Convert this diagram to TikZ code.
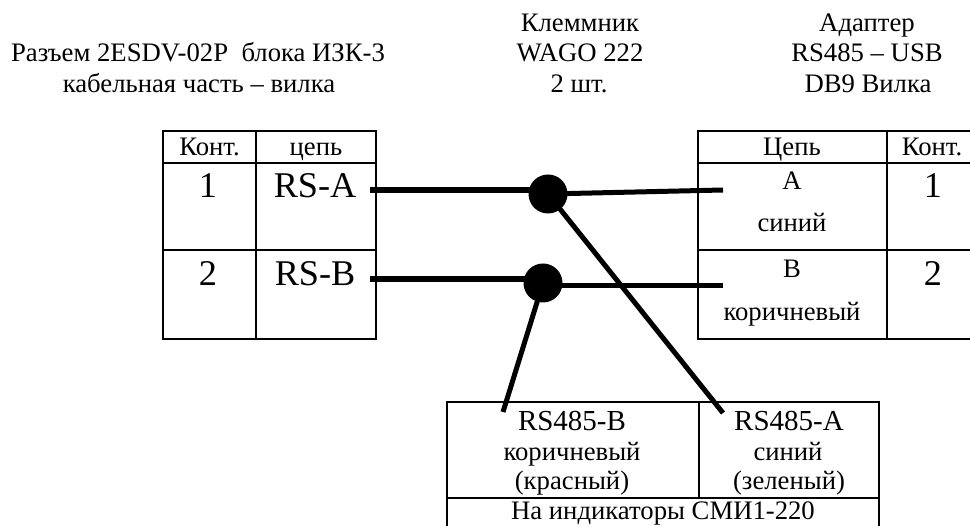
\documentclass[tikz,border=0pt]{standalone}
\usepackage{fontspec}
\setmainfont{Liberation Serif}
\tikzset{
  grid/.style={draw=black,line width=1.6pt},
  wire/.style={draw=black,line width=6pt},
  thinwire/.style={draw=black,line width=5pt},
  joint/.style={circle,fill=black,inner sep=0pt,minimum size=39pt},
  txt/.style={font=\fontsize{26.7}{26.7}\selectfont,inner sep=0pt,anchor=base},
  midtxt/.style={font=\fontsize{29}{29}\selectfont,inner sep=0pt,anchor=base},
  bigtxt/.style={font=\fontsize{36.2}{36.2}\selectfont,inner sep=0pt,anchor=base},
}
\begin{document}
\begin{tikzpicture}[x=1pt,y=-1pt]
\useasboundingbox (0,0) rectangle (970,526);
% left table
\draw[grid] (163,131) rectangle (376,339);
\draw[grid] (163,163) -- (376,163) (163,250) -- (376,250) (256,131) -- (256,339);
% right table
\draw[grid] (698,131) rectangle (975,339);
\draw[grid] (698,163) -- (975,163) (698,250) -- (975,250) (887,131) -- (887,339);
% bottom table
\draw[grid] (447,402) rectangle (879,532);
\draw[grid] (447,498) -- (879,498) (699,402) -- (699,498);
% headings
\node[txt] (h1) at (198,62) {Разъем 2ESDV-02P\ \ блока ИЗК-3};
\node[txt] (h2) at (199,93) {кабельная часть – вилка};
\node[txt] (h3) at (580,32) {Клеммник};
\node[txt] (h4) at (580,62) {WAGO 222};
\node[txt] (h5) at (579,93) {2 шт.};
\node[txt] (h6) at (867,32) {Адаптер};
\node[txt] (h7) at (867,62) {RS485 – USB};
\node[txt] (h8) at (868,93) {DB9 Вилка};
% left cells
\node[txt] (lk) at (209.5,156) {Конт.};
\node[txt] (lc) at (316,156) {цепь};
\node[bigtxt] (l1) at (208,198) {1};
\node[bigtxt] (la) at (315,198) {RS-A};
\node[bigtxt] (l2) at (208,286) {2};
\node[bigtxt] (lb) at (315,286) {RS-B};
% right cells
\node[txt] (rc) at (792,156) {Цепь};
\node[txt] (rk) at (932,156) {Конт.};
\node[txt] (ra) at (792,190) {А};
\node[txt] (rsin) at (792,232) {синий};
\node[txt] (rb) at (792,278) {В};
\node[txt] (rkor) at (792,321) {коричневый};
\node[bigtxt] (r1) at (933,198) {1};
\node[bigtxt] (r2) at (933,286) {2};
% bottom cells
\node[midtxt] (b1) at (572,431) {RS485-B};
\node[txt] (b2) at (572,461) {коричневый};
\node[txt] (b3) at (572,490) {(красный)};
\node[midtxt] (b4) at (789,431) {RS485-A};
\node[txt] (b5) at (788,461) {синий};
\node[txt] (b6) at (789,490) {(зеленый)};
\node[txt] (b7) at (663,520) {На индикаторы СМИ1-220};
% wires
\coordinate (aL) at (370,190);
\coordinate (bL) at (370,279);
\coordinate (aR) at (723,190);
\coordinate (bR) at (723,286);
\coordinate (bB) at (503,412);
\coordinate (aB) at (723,413);
\node[joint] (ja) at (548,194) {};
\node[joint] (jb) at (543,283) {};
\draw[wire] (aL) -- (ja.center |- aL);
\draw[wire] (bL) -- (jb.center |- bL);
\draw[thinwire] (ja.center) -- (aR);
\draw[thinwire] (jb.center |- bR) -- (bR);
\draw[thinwire] (jb.center) -- (bB);
\draw[thinwire] (ja.center) -- (aB);
\end{tikzpicture}
\end{document}
